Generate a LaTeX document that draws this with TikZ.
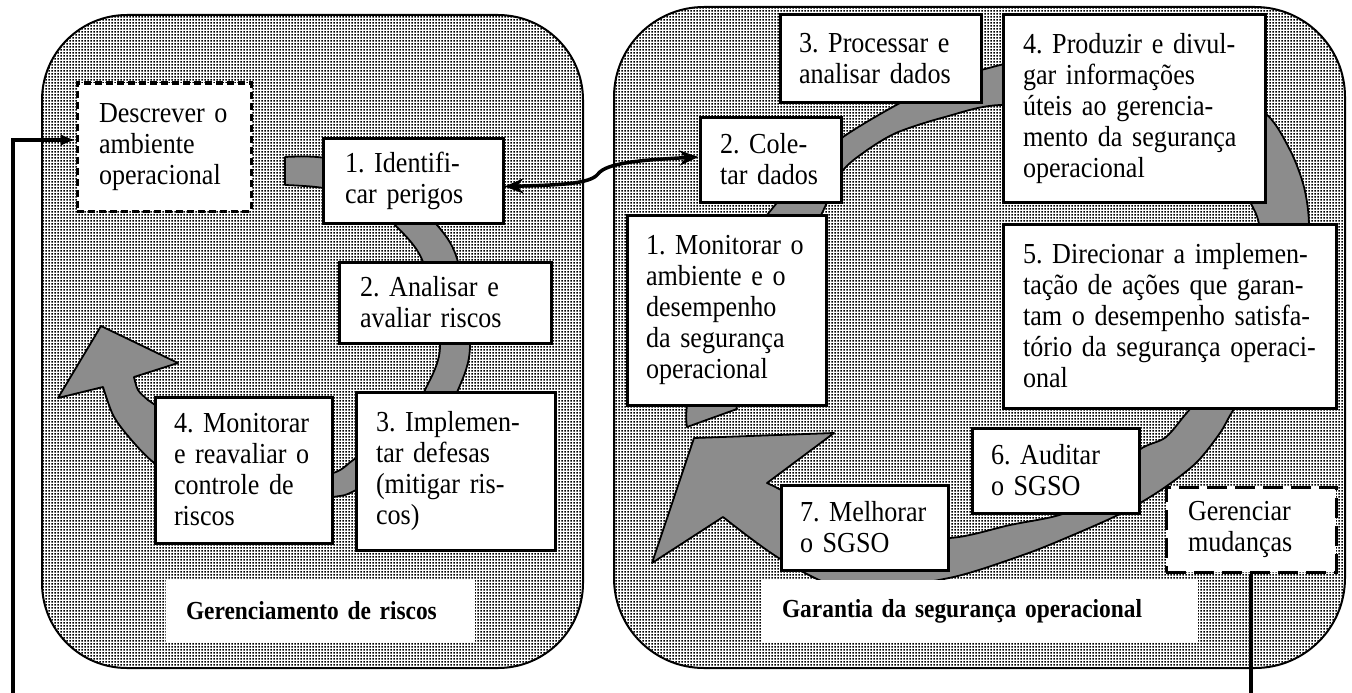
\documentclass[tikz,border=0pt]{standalone}
\usepackage{fontspec}
\setmainfont{Liberation Serif}[FakeStretch=0.9]
\usetikzlibrary{arrows.meta,patterns.meta}
\frenchspacing

% stipple used for the two panels
\pgfdeclarepattern{
  name=paneldots, type=uncolored,
  bottom left={\pgfpoint{0pt}{0pt}}, top right={\pgfpoint{3pt}{3pt}},
  tile size={\pgfpoint{3pt}{3pt}},
  code={\pgfpathrectangle{\pgfpoint{0.6pt}{0.6pt}}{\pgfpoint{1.8pt}{1.8pt}}\pgfusepath{fill}}
}

\newcommand\boxfont{\fontsize{29pt}{31pt}\selectfont\hyphenpenalty=10000\exhyphenpenalty=10000}
\newcommand\labfont{\fontsize{26pt}{30pt}\selectfont\bfseries}

\tikzset{
  panel/.style={draw=black, line width=2pt, pattern=paneldots, pattern color=black},
  band/.style={draw=black, line width=1.8pt, fill=black!45, line join=round},
  box/.style={draw=black, line width=3pt, fill=white, inner ysep=0pt,
              align=left, font=\boxfont},
  dbox/.style={box, dash pattern=on 7pt off 4pt},
  lbox/.style={box, dash pattern=on 20pt off 8pt},
  lab/.style={fill=white, inner ysep=0pt, inner xsep=20pt, align=left, font=\labfont},
  feed/.style={line width=3.2pt, -{Latex[length=15pt,width=12pt]}},
  plain/.style={line width=3.2pt},
  dbl/.style={line width=3.5pt, {Stealth[length=19pt,width=15pt]}-{Stealth[length=19pt,width=15pt]}}
}

\begin{document}
\begin{tikzpicture}[x=1pt,y=-1pt]
\useasboundingbox (0,0) rectangle (1352,693);

% two rounded panels
\draw[panel, rounded corners=85pt] (42,15) rectangle (583,668);
\draw[panel, rounded corners=90pt] (614,7) rectangle (1345,668);

% cycle arrow of the risk management panel
\draw[band] plot[smooth] coordinates {(285,157) (325,158) (385,176) (437,225) (458,262) (470,345) (458,390) (425,450) (356,490) (333,497) (260,505) (195,490) (153,462) (128,436) (113,415) (103,387)}
  -- (58,398) -- (101,326) -- (178,363)
  -- plot[smooth] coordinates {(134,377) (138,390) (148,400) (158,408) (180,437) (220,465) (280,480) (333,473) (356,458) (400,430) (425,390) (440,345) (423,262) (395,225) (365,200) (323,188) (285,185)} -- cycle;

% cycle arrow of the safety assurance panel
\draw[band] plot[smooth] coordinates {(687,427) (687,405) (700,330) (728,265) (767,215) (805,170) (843,137) (900,103) (950,80) (981,70) (1040,58) (1130,63) (1210,85) (1265,113) (1290,150) (1304,187) (1309,225) (1305,280) (1285,345) (1260,385) (1235,408) (1220,433) (1196,463) (1161,490) (1122,513) (1073,535) (1023,555) (949,578) (851,590) (782,560) (723,517)}
  -- (652,563) -- (694,438) -- (834,433)
  -- plot[smooth] coordinates {(767,483) (781,490) (820,512) (880,530) (949,538) (1010,525) (1065,513) (1100,487) (1139,450) (1166,437) (1191,408) (1230,370) (1255,320) (1262,265) (1259,224) (1250,202) (1230,172) (1180,140) (1100,115) (1002,105) (945,117) (896,133) (863,153) (841,173) (821,215) (790,270) (760,340) (745,390) (737,405) (737,409)} -- cycle;

% left panel steps
\node[dbox, inner xsep=22pt, text width=130pt, minimum height=128pt] (D) at (164,147)
  {Descrever o\\ambiente\\operacional};
\node[box, inner xsep=22pt, text width=136pt, minimum height=85pt] (L1) at (413,180.5)
  {1. Identifi-\\car perigos};
\node[box, inner xsep=21pt, text width=170pt, minimum height=81pt] (L2) at (445,302.5)
  {2. Analisar e\\avaliar riscos};
\node[box, inner xsep=20pt, text width=159pt, minimum height=158pt] (L3) at (455.5,471)
  {3. Implemen-\\tar defesas\\(mitigar ris-\\cos)};
\node[box, inner xsep=19pt, text width=139pt, minimum height=146pt] (L4) at (243.5,470)
  {4. Monitorar\\e reavaliar o\\controle de\\riscos};
\node[lab, text width=269pt, minimum height=62pt] (LG) at (320.5,611)
  {Gerenciamento de riscos};

% right panel steps
\node[box, inner xsep=19pt, text width=163pt, minimum height=87pt] (R3) at (880.5,58.5)
  {3. Processar e\\analisar dados};
\node[box, inner xsep=20pt, text width=222pt, minimum height=187pt] (R4) at (1134,108.5)
  {4. Produzir e divul-\\gar informações\\úteis ao gerencia-\\mento da segurança\\operacional};
\node[box, inner xsep=20pt, text width=101pt, minimum height=85pt] (R2) at (770.5,159.5)
  {2. Cole-\\tar dados};
\node[box, inner xsep=19pt, text width=161pt, minimum height=190pt] (R1) at (726.5,310)
  {1. Monitorar o\\ambiente e o\\desempenho\\da segurança\\operacional};
\node[box, inner xsep=20pt, text width=293pt, minimum height=184pt] (R5) at (1169.5,316)
  {5. Direcionar a implemen-\\tação de ações que garan-\\tam o desempenho satisfa-\\tório da segurança operaci-\\onal};
\node[box, inner xsep=19pt, text width=129pt, minimum height=85pt] (R6) at (1055.5,470.5)
  {6. Auditar\\o SGSO};
\node[box, inner xsep=19pt, text width=129pt, minimum height=85pt] (R7) at (864.5,527.5)
  {7. Melhorar\\o SGSO};
\node[lbox, inner xsep=22pt, text width=126pt, minimum height=85pt] (RG) at (1251,529.5)
  {Gerenciar\\mudanças};
\node[lab, text width=396pt, minimum height=62pt] (RL) at (980,611)
  {Garantia da segurança operacional};

% connectors
\coordinate (inL) at (13,693);
\coordinate (outR) at (1251,693);
\draw[feed] (inL) |- ([yshift=7pt]D.west);
\draw[plain] (RG.south) -- (outR);
\draw[dbl] ([yshift=-6pt]L1.east) .. controls (560,185) and (590,184) .. (598,174)
  .. controls (606,163) and (640,160) .. ([yshift=2.5pt]R2.west);
\end{tikzpicture}
\end{document}
